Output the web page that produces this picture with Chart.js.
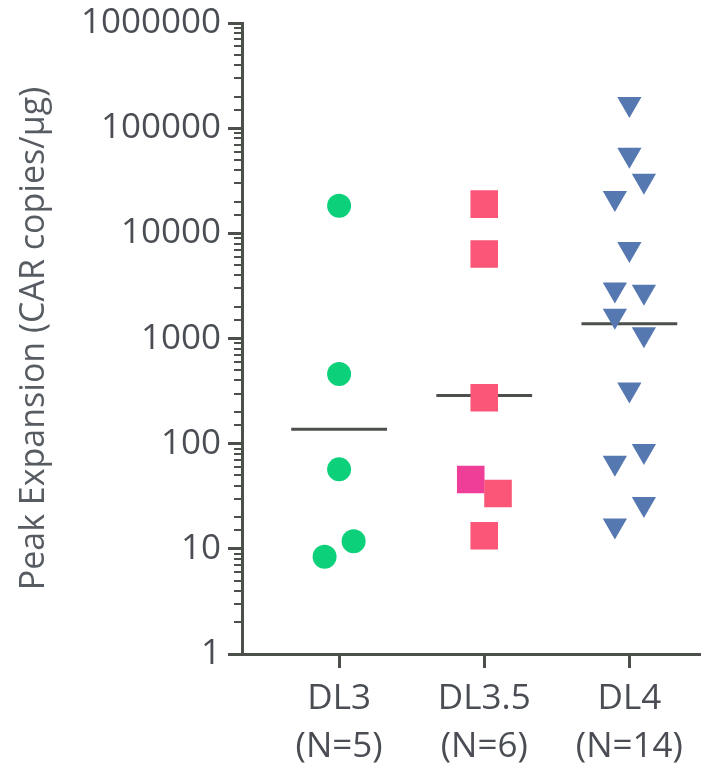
<!DOCTYPE html>
<html>
<head>
<meta charset="utf-8">
<script src="https://cdn.jsdelivr.net/npm/chart.js@4.4.1/dist/chart.umd.min.js"></script>
<style>
  html, body { margin: 0; padding: 0; background: #fff; }
  #wrap { width: 720px; height: 763px; }
</style>
</head>
<body>
<div id="wrap"><canvas id="chart"></canvas></div>
<script>
const groups = [['DL3', '(N=5)'], ['DL3.5', '(N=6)'], ['DL4', '(N=14)']]
const dl3 = [18300, 460, 57, 11.8, 8.4]
const dl35 = [19000, 6370, 274, 45.6, 33.6, 13.3]
const dl4 = [170000, 56000, 31700, 21700, 7090, 2930, 2790, 1650, 1100, 327, 85, 66, 26.7, 16.7]
const centers = [137, 288, 1380]
const yTicks = [1, 10, 100, 1000, 10000, 100000, 1000000]

// sideways spread so that close points don't sit on top of each other
const spread3 = [0, 0, 0, 0.1, -0.1]
const spread35 = [0, 0, 0, -0.093, 0.095, 0]
const spread4 = [0, 0, 0.1, -0.1, 0, -0.1, 0.1, -0.1, 0.1, 0, 0.1, -0.1, 0.1, -0.1]

const axisColor = '#4b504b'
const textColor = '#4a4e54'

function points(values, group, spread) {
  return values.map((v, i) => ({ x: group + spread[i], y: v }))
}

function centerLine(i) {
  return {
    data: [{ x: i + 1 - 0.33, y: centers[i] }, { x: i + 1 + 0.33, y: centers[i] }],
    showLine: true,
    borderColor: axisColor,
    borderWidth: 3,
    pointRadius: 0,
    order: 2
  }
}

const minorTicks = {
  id: 'minorTicks',
  afterDraw(chart) {
    const y = chart.scales.y
    const ctx = chart.ctx
    ctx.save()
    ctx.strokeStyle = axisColor
    ctx.lineWidth = 2
    y.ticks.forEach((t) => {
      if (yTicks.includes(t.value)) return
      const py = Math.round(y.getPixelForValue(t.value))
      ctx.beginPath()
      ctx.moveTo(y.right - 8, py)
      ctx.lineTo(y.right, py)
      ctx.stroke()
    })
    ctx.restore()
  }
}

const data = {
  datasets: [
    {
      data: points(dl3, 1, spread3),
      pointStyle: 'circle',
      pointRadius: 12,
      backgroundColor: '#0cd07a',
      borderWidth: 0,
      order: 1
    },
    {
      data: points(dl35, 2, spread35),
      pointStyle: 'rect',
      pointRadius: 19.5,
      backgroundColor: ['#fb5577', '#fb5577', '#fb5577', '#ef3e97', '#fb5577', '#fb5577'],
      borderWidth: 0,
      order: 1
    },
    {
      data: points(dl4, 3, spread4),
      pointStyle: 'triangle',
      rotation: 180,
      pointRadius: 14,
      backgroundColor: '#5678b1',
      borderWidth: 0,
      order: 1
    },
    centerLine(0),
    centerLine(1),
    centerLine(2)
  ]
}

const config = {
  type: 'scatter',
  data: data,
  options: {
    responsive: true,
    maintainAspectRatio: false,
    animation: false,
    layout: { padding: { top: 16, right: 0, left: 0, bottom: 0 } },
    elements: { point: { hoverRadius: 0 } },
    scales: {
      x: {
        type: 'linear',
        min: 0.331,
        max: 3.49,
        afterBuildTicks: (scale) => { scale.ticks = [1, 2, 3].map((v) => ({ value: v })) },
        afterFit: (scale) => { scale.height = 109 },
        grid: {
          drawOnChartArea: false,
          tickLength: 14,
          tickWidth: 3,
          tickColor: axisColor
        },
        border: { color: axisColor, width: 3 },
        ticks: {
          callback: (v) => groups[v - 1],
          color: textColor,
          font: { family: 'Open Sans', size: 35, lineHeight: 1.37 },
          padding: 7,
          maxRotation: 0
        }
      },
      y: {
        type: 'logarithmic',
        min: 1,
        max: 1000000,
        afterFit: (scale) => { scale.width = 242 },
        grid: {
          drawOnChartArea: false,
          tickLength: 14,
          tickWidth: 3,
          tickColor: (c) => yTicks.includes(c.tick.value) ? axisColor : 'rgba(0,0,0,0)'
        },
        border: { color: axisColor, width: 3 },
        ticks: {
          autoSkip: false,
          callback: (v) => yTicks.includes(v) ? String(v) : '',
          color: textColor,
          font: { family: 'Open Sans', size: 35, lineHeight: 0.92 },
          padding: 7
        },
        title: {
          display: true,
          text: 'Peak Expansion (CAR copies/µg)',
          color: '#575c62',
          font: { family: 'Open Sans', size: 34 },
          padding: { top: 14, bottom: 0 }
        }
      }
    },
    plugins: {
      legend: { display: false },
      tooltip: { enabled: false }
    }
  },
  plugins: [minorTicks]
}

window.addEventListener('load', () => {
  new Chart(document.getElementById('chart'), config)
})
</script>
</body>
</html>
